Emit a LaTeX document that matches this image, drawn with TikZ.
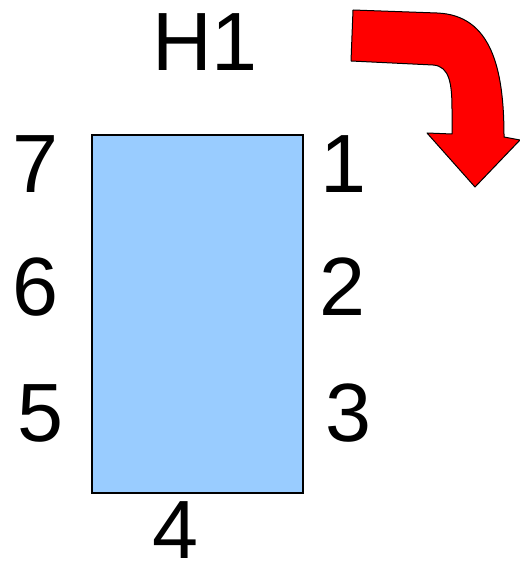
\documentclass[tikz,border=0pt]{standalone}
\usepackage{fontspec}
\setmainfont{Liberation Sans}
\usetikzlibrary{positioning}

\begin{document}
\begin{tikzpicture}[
    x=1bp, y=-1bp,
    panel/.style={
        rectangle, draw=black, line width=1.5bp, fill={rgb,255:red,153;green,204;blue,255},
        minimum width=211bp, minimum height=358bp, inner sep=0pt
    },
    num/.style={font=\fontsize{83}{83}\selectfont, inner sep=0pt},
    turn/.style={draw=black, line width=1bp, fill=red, line join=round}
]
\useasboundingbox (0,0) rectangle (520,564);

% Nodes
\node[panel] (H1box) at (197.5,314) {};
\node[num] (title) at (205,42) {H1};
\node[num] (n1) at (343,164) {1};
\node[num] (n2) at (342,287) {2};
\node[num] (n3) at (348,413) {3};
\node[num] (n4) at (175,530) {4};
\node[num] (n5) at (40,413) {5};
\node[num] (n6) at (35,287) {6};
\node[num] (n7) at (35,164) {7};

% Turning arrow
\draw[turn] (353,10) -- (437,13) .. controls (492,15) and (504,70) .. (504,137)
    -- (520,140) -- (475,187) -- (427,133) -- (452,134)
    -- (452,110) .. controls (452,85) and (450,66) .. (433,65)
    -- (351,61) -- cycle;

\end{tikzpicture}
\end{document}
